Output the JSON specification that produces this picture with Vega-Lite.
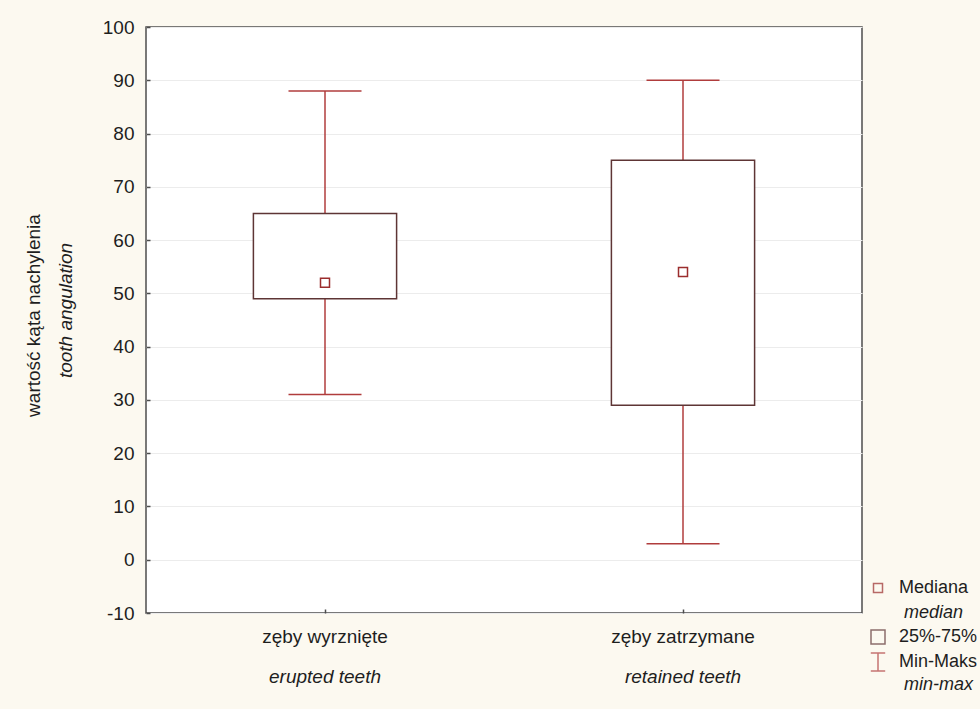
{
  "$schema": "https://vega.github.io/schema/vega-lite/v6.json",
  "width": 716,
  "height": 586,
  "autosize": {"type": "none"},
  "padding": {"left": 146, "top": 27, "right": 118, "bottom": 96},
  "background": "#fcf9f0",
  "config": {
    "view": {"fill": "white", "stroke": "#4d4d4d", "strokeWidth": 1.5},
    "font": "Liberation Sans",
    "axis": {"labelFont": "Liberation Sans", "titleFont": "Liberation Sans", "labelColor": "#1e1e1e", "titleColor": "#1e1e1e"},
    "legend": {
      "orient": "none",
      "legendX": 722,
      "legendY": 552,
      "title": null,
      "labelFont": "Liberation Sans",
      "labelFontSize": 18,
      "labelColor": "#1e1e1e",
      "rowPadding": 3,
      "symbolStrokeWidth": 1.5,
      "symbolFillColor": "transparent"
    }
  },
  "data": {
    "values": [
      {"group": "zęby wyrznięte", "min": 31, "q1": 49, "median": 52, "q3": 65, "max": 88, "stat": "Mediana", "stat2": "r1"},
      {"group": "zęby zatrzymane", "min": 3, "q1": 29, "median": 54, "q3": 75, "max": 90, "stat": "Mediana", "stat2": "r1"}
    ]
  },
  "layer": [
    {
      "layer": [
        {
          "mark": {"type": "rule", "color": "#b03c3c", "strokeWidth": 1.5},
          "encoding": {
            "x": {
              "field": "group", "type": "nominal", "sort": null,
              "scale": {"paddingInner": 0, "paddingOuter": 0},
              "axis": {"orient": "bottom", "offset": -4, "title": null, "labelAngle": 0, "labelFontSize": 19, "labelPadding": 14, "tickSize": 4, "tickColor": "#4d4d4d", "tickWidth": 1.5, "domain": false, "grid": false}
            },
            "y": {
              "field": "min", "type": "quantitative",
              "scale": {"domain": [-10, 100], "nice": false, "zero": false},
              "axis": {
                "orient": "left",
                "offset": -4,
                "title": "wartość kąta nachylenia",
                "titleFontSize": 19, "titleFontWeight": "normal",
                "titleX": -117, "titleY": 288, "titleAngle": -90, "titleBaseline": "middle", "titleAlign": "center",
                "values": [-10, 0, 10, 20, 30, 40, 50, 60, 70, 80, 90, 100],
                "labelExpr": "replace(datum.label, '−', '-')",
                "grid": true, "gridColor": "#ececec",
                "tickSize": 4, "tickColor": "#4d4d4d", "tickWidth": 1.5,
                "domain": false, "labelFontSize": 19, "labelPadding": 12
              }
            },
            "y2": {"field": "max"}
          }
        },
        {
          "mark": {"type": "tick", "color": "#b03c3c", "thickness": 1.5, "size": 73, "opacity": 1},
          "encoding": {
            "x": {"field": "group", "type": "nominal", "sort": null},
            "y": {"field": "min", "type": "quantitative"}
          }
        },
        {
          "mark": {"type": "tick", "color": "#b03c3c", "thickness": 1.5, "size": 73, "opacity": 1},
          "encoding": {
            "x": {"field": "group", "type": "nominal", "sort": null},
            "y": {"field": "max", "type": "quantitative"}
          }
        },
        {
          "mark": {"type": "bar", "fill": "white", "stroke": "#5e3535", "strokeWidth": 1.5, "width": {"band": 0.4}},
          "encoding": {
            "x": {"field": "group", "type": "nominal", "sort": null},
            "y": {"field": "q1", "type": "quantitative"},
            "y2": {"field": "q3"}
          }
        }
      ]
    },
    {
      "mark": {"type": "point", "filled": false, "strokeWidth": 1.5},
      "encoding": {
        "x": {
          "field": "group", "type": "nominal", "sort": null,
          "axis": {"orient": "bottom", "title": null, "labelAngle": 0, "labelExpr": "datum.label == 'zęby wyrznięte' ? 'erupted teeth' : 'retained teeth'", "labelFontStyle": "italic", "labelFontSize": 19, "labelPadding": 54, "ticks": false, "domain": false, "grid": false}
        },
        "y": {
          "field": "median", "type": "quantitative",
          "axis": {"orient": "left", "title": "tooth angulation", "titleFontSize": 19, "titleFontStyle": "italic", "titleFontWeight": "normal", "titleX": -81, "titleY": 283, "titleAngle": -90, "titleBaseline": "middle", "titleAlign": "center", "labels": false, "ticks": false, "domain": false, "grid": false}
        },
        "shape": {
          "field": "stat", "type": "nominal",
          "scale": {"domain": ["Mediana", "median", "25%-75%", "Min-Maks", "min-max"], "range": ["square", "square", "square", "M-0.8,-1H0.8M0,-1V1M-0.8,1H0.8", "square"]},
          "legend": {
            "labelOffset": 11,
            "labelFontStyle": "normal",
            "labelExpr": "datum.label === 'median' || datum.label === 'min-max' ? '' : datum.label"
          }
        },
        "size": {
          "field": "stat", "type": "nominal",
          "scale": {"type": "ordinal", "domain": ["Mediana", "median", "25%-75%", "Min-Maks", "min-max"], "range": [81, 324, 196, 324, 324]},
          "legend": {
            "labelOffset": 11,
            "labelFontStyle": "normal",
            "labelExpr": "datum.label === 'median' || datum.label === 'min-max' ? '' : datum.label"
          }
        },
        "stroke": {
          "field": "stat", "type": "nominal",
          "scale": {"domain": ["Mediana", "median", "25%-75%", "Min-Maks", "min-max"], "range": ["#9b2d2d", "transparent", "#5e3535", "#b03c3c", "transparent"]},
          "legend": {
            "labelOffset": 11,
            "labelFontStyle": "normal",
            "labelExpr": "datum.label === 'median' || datum.label === 'min-max' ? '' : datum.label"
          }
        },
        "opacity": {
          "field": "stat2", "type": "nominal",
          "scale": {"type": "ordinal", "domain": ["r1", "median", "r3", "r4", "min-max"], "range": [1, 1, 1, 1, 1]},
          "legend": {
            "labelOffset": 16,
            "rowPadding": 0,
            "symbolSize": 324,
            "symbolOpacity": 0,
            "symbolStrokeColor": "transparent",
            "labelFontStyle": "italic",
            "labelExpr": "datum.label === 'median' || datum.label === 'min-max' ? datum.label : ''"
          }
        }
      }
    }
  ],
  "resolve": {"axis": {"x": "independent", "y": "independent"}}
}
